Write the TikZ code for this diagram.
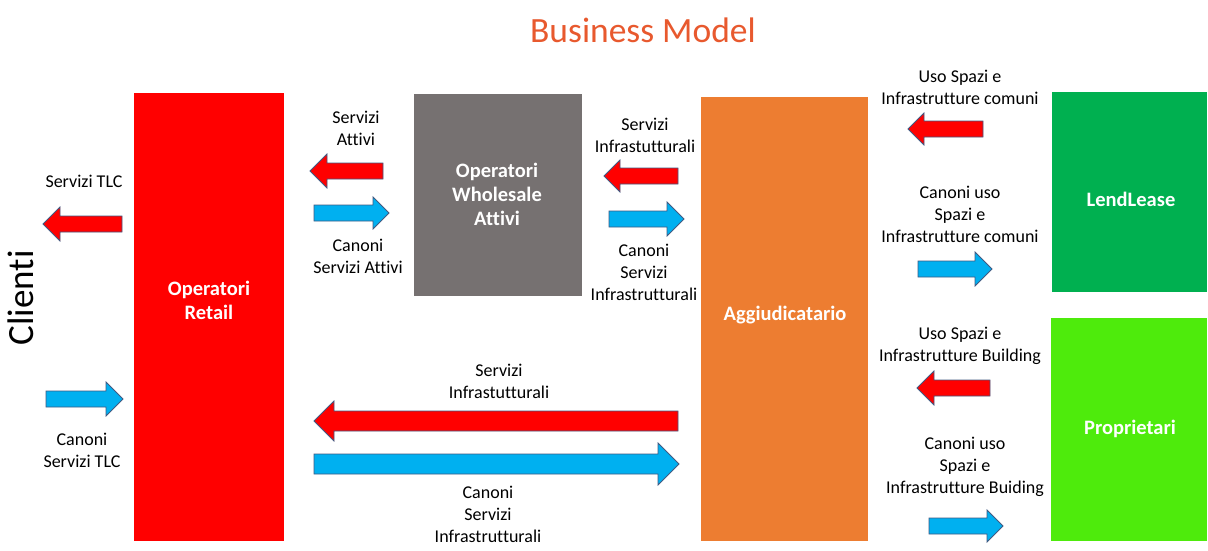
\documentclass[tikz,border=0pt]{standalone}
\usepackage{fontspec}
\setmainfont{Carlito}[Ligatures=NoCommon]
\definecolor{titleorange}{RGB}{232,89,46}
\definecolor{retailred}{RGB}{255,0,0}
\definecolor{wholegray}{RGB}{118,113,113}
\definecolor{aggorange}{RGB}{237,125,49}
\definecolor{lendgreen}{RGB}{0,176,80}
\definecolor{propgreen}{RGB}{78,235,12}
\definecolor{flowblue}{RGB}{0,176,240}
\definecolor{flowred}{RGB}{255,0,0}
\definecolor{arrowedge}{RGB}{65,90,130}

% block arrow: #1 tail x, #2 tip x, #3 centre y,
% #4 shaft half height, #5 head half height, #6 fill colour
\newcommand\blockarrow[6]{%
  \pgfmathsetmacro\baDir{(#2>#1)?1:-1}%
  \pgfmathsetmacro\baBase{#2-\baDir*#5}%
  \filldraw[fill=#6,draw=arrowedge,line width=0.8pt,line join=miter]
    (#1,#3-#4) -- (\baBase,#3-#4) -- (\baBase,#3-#5) -- (#2,#3)
    -- (\baBase,#3+#5) -- (\baBase,#3+#4) -- (#1,#3+#4) -- cycle;}

\begin{document}
\begin{tikzpicture}[x=1pt,y=-1pt,
  box/.style={inner sep=0pt,outer sep=0pt,text=white,align=center,
    font=\fontsize{20.5}{24}\selectfont\bfseries},
  lbl/.style={inner sep=0pt,align=center,text=black,
    font=\fontsize{18}{22}\selectfont}]
\useasboundingbox[fill=white] (0,0) rectangle (1208,551);

% title
\node[text=titleorange,font=\fontsize{35.5}{40}\selectfont] (title) at (643,30) {Business Model};

% customers
\node[rotate=90,font=\fontsize{37}{40}\selectfont] (clienti) at (21,298) {Clienti};

% actors
\fill[retailred] (134,93) rectangle (284,541);
\node[box] (retail) at (209,300) {Operatori\\Retail};
\fill[wholegray] (414,94) rectangle (582,296);
\node[box] (wholesale) at (497,194) {Operatori\\Wholesale\\Attivi};
\fill[aggorange] (701,97) rectangle (868,541);
\node[box] (aggiud) at (785,315) {Aggiudicatario};
\fill[lendgreen] (1052,92) rectangle (1207,292);
\node[box] (lendlease) at (1131,199) {LendLease};
\fill[propgreen] (1051,318) rectangle (1207,541);
\node[box] (propr) at (1130,429) {Proprietari};

% flows between customers and retail operators
\blockarrow{122}{43}{224}{8}{17}{flowred}
\node[lbl] (l1) at (84,181) {Servizi TLC};
\blockarrow{46}{123}{399}{8}{17}{flowblue}
\node[lbl] (l2) at (82,450) {Canoni\\Servizi TLC};

% retail <-> wholesale
\blockarrow{383}{310}{171}{8}{17}{flowred}
\node[lbl] (l3) at (356,128) {Servizi\\Attivi};
\blockarrow{314}{389}{213}{8}{16}{flowblue}
\node[lbl] (l4) at (358,256) {Canoni\\Servizi Attivi};

% wholesale <-> aggiudicatario
\blockarrow{678}{604}{176}{8}{16}{flowred}
\node[lbl] (l5) at (645,135) {Servizi\\Infrastutturali};
\blockarrow{609}{684}{219}{8}{17}{flowblue}
\node[lbl] (l6) at (644,272) {Canoni\\Servizi\\Infrastrutturali};

% aggiudicatario <-> LendLease
\blockarrow{983}{908}{129}{8}{16}{flowred}
\node[lbl] (l7) at (960,87) {Uso Spazi e\\Infrastrutture comuni};
\blockarrow{918}{992}{269}{8}{17}{flowblue}
\node[lbl] (l8) at (960,214) {Canoni uso\\Spazi e\\Infrastrutture comuni};

% aggiudicatario <-> owners
\blockarrow{990}{917}{388}{8}{17}{flowred}
\node[lbl] (l9) at (960,346) {Uso Spazi e\\Infrastrutture Building};
\blockarrow{929}{1003}{526}{8}{16}{flowblue}
\node[lbl] (l10) at (965,467) {Canoni uso\\Spazi e\\Infrastrutture Buiding};

% retail <-> aggiudicatario
\blockarrow{678}{314}{421}{10}{20}{flowred}
\node[lbl] (l11) at (499,381) {Servizi\\Infrastutturali};
\blockarrow{314}{679}{464}{10}{21}{flowblue}
\node[lbl] (l12) at (488,514) {Canoni\\Servizi\\Infrastrutturali};
\end{tikzpicture}
\end{document}
